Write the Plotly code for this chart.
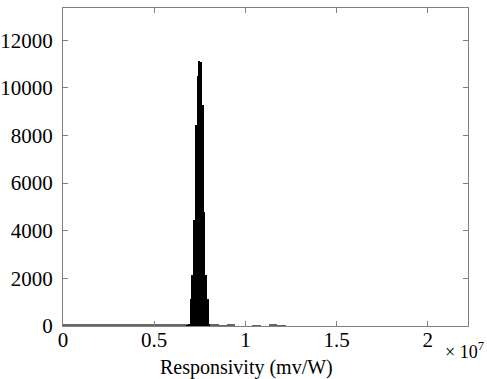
import plotly.graph_objects as go

# Main histogram bins (responsivity in mV/W) and counts
main_centers = [0.6840e7, 0.6932e7, 0.7024e7, 0.7116e7, 0.7208e7, 0.7300e7, 0.7392e7,
                0.7484e7, 0.7576e7, 0.7668e7, 0.7760e7, 0.7852e7, 0.7944e7, 0.8036e7]
main_counts = [30, 60, 1120, 2130, 4440, 8420, 10480, 11120, 11100, 9270, 4790, 2130, 1120, 50]

# Low-level tails of the histogram
tail_centers = [0.023e7, 0.069e7, 0.115e7, 0.161e7, 0.207e7, 0.253e7, 0.299e7, 0.345e7,
                0.391e7, 0.437e7, 0.483e7, 0.529e7, 0.575e7, 0.621e7, 0.660e7,
                0.830e7, 0.876e7, 0.922e7, 0.968e7, 1.014e7, 1.060e7, 1.106e7, 1.152e7, 1.198e7]
tail_counts = [50, 45, 45, 50, 45, 45, 45, 50, 45, 45, 50, 45, 45, 50, 45,
               50, 30, 70, 0, 0, 20, 0, 45, 20]

x_ticks = [0, 0.5e7, 1e7, 1.5e7, 2e7]
x_tick_labels = ["0", "0.5", "1", "1.5", "2"]
y_ticks = [0, 2000, 4000, 6000, 8000, 10000, 12000]
y_tick_labels = ["0", "2000", "4000", "6000", "8000", "10000", "12000"]

MAIN_W = 0.0092e7
TAIL_W = 0.046e7

fig = go.Figure()
fig.add_trace(go.Bar(x=tail_centers, y=tail_counts, width=TAIL_W,
                     marker=dict(color="#666666", line=dict(width=0))))
fig.add_trace(go.Bar(x=main_centers, y=main_counts, width=MAIN_W,
                     marker=dict(color="black", line=dict(width=0))))

font = dict(family="Liberation Serif", size=21, color="black")
axis_col = "#808080"

fig.update_layout(
    width=487, height=379,
    margin=dict(l=63, r=19, t=8, b=53),
    paper_bgcolor="white", plot_bgcolor="white",
    showlegend=False, bargap=0, barmode="overlay",
    font=font,
    xaxis=dict(range=[0, 2.22e7], tickvals=x_ticks, ticktext=x_tick_labels,
               ticks="inside", ticklen=5, tickcolor=axis_col, automargin=False,
               showline=True, linecolor=axis_col, linewidth=1, mirror="ticks",
               showgrid=False, zeroline=False, tickfont=font, ticklabelstandoff=-5),
    yaxis=dict(range=[0, 13350], tickvals=y_ticks, ticktext=y_tick_labels,
               ticks="inside", ticklen=5, tickcolor=axis_col, automargin=False,
               showline=True, linecolor=axis_col, linewidth=1, mirror="ticks",
               showgrid=False, zeroline=False, tickfont=font, ticklabelstandoff=5),
    annotations=[
        dict(text="Responsivity (mv/W)", xref="paper", yref="paper",
             x=(246 - 63) / 405, y=-(367 - 326) / 318, xanchor="center", yanchor="middle",
             showarrow=False, font=dict(family="Liberation Serif", size=20, color="black")),
        dict(text="× 10<sup>7</sup>", xref="paper", yref="paper",
             x=(443 - 63) / 405, y=-(350 - 326) / 318, xanchor="left", yanchor="middle",
             showarrow=False, font=dict(family="Liberation Serif", size=18, color="black")),
    ],
)

fig.write_html("out.html")
